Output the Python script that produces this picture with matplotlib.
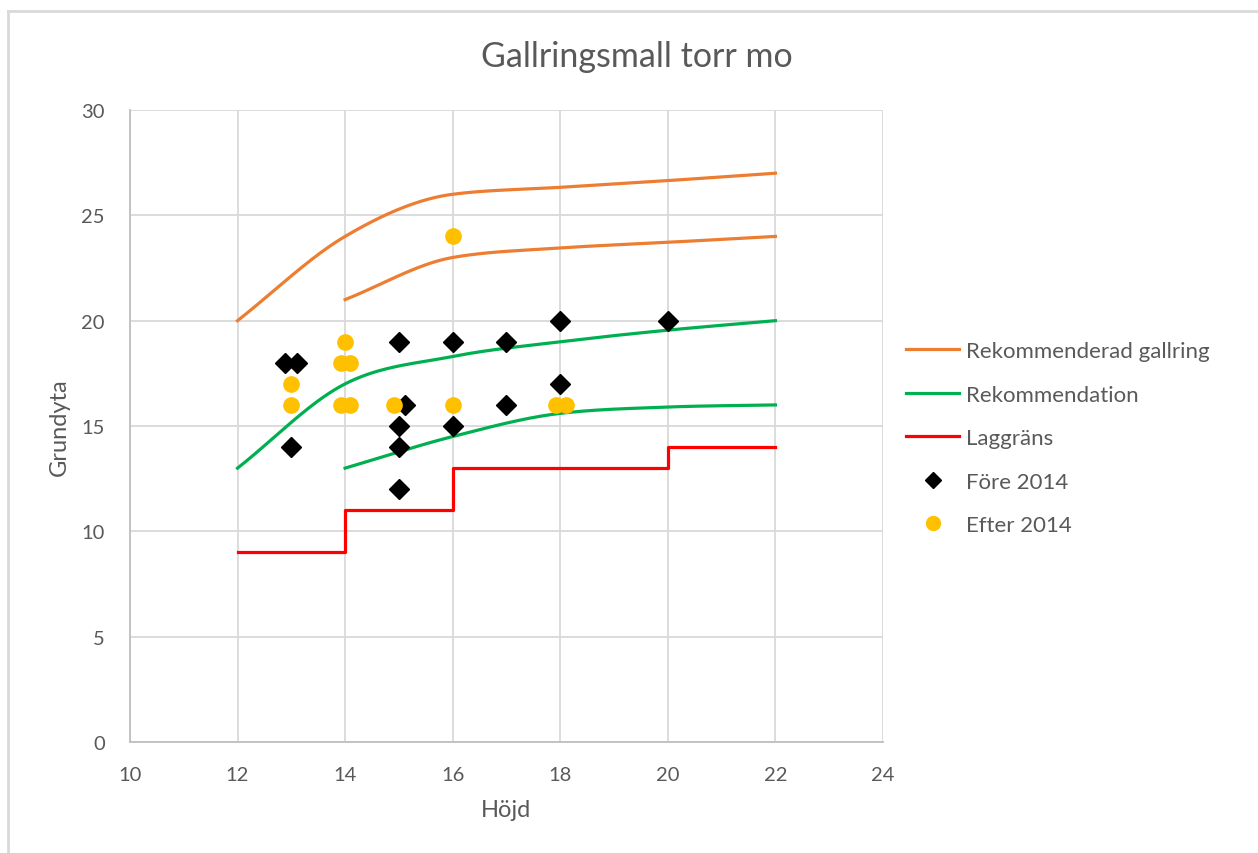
import numpy as np
import matplotlib
matplotlib.use("Agg")
import matplotlib.pyplot as plt
from matplotlib.lines import Line2D

plt.rcParams['font.family'] = ['Lato', 'DejaVu Sans']

# curves
rek_gall_hi_x = [12, 14, 16, 18, 20, 22]
rek_gall_hi_y = [20, 24, 26, 26.33, 26.65, 27]
rek_gall_lo_x = [14, 16, 18, 20, 22]
rek_gall_lo_y = [21, 23, 23.45, 23.72, 24]
rek_hi_x = [12, 14, 16, 18, 20, 22]
rek_hi_y = [13, 17, 18.3, 19, 19.55, 20]
rek_lo_x = [14, 16, 18, 20, 22]
rek_lo_y = [13, 14.5, 15.6, 15.9, 16]
lag_x = [12, 14, 16, 20, 22]
lag_y = [9, 11, 13, 14, 14]

fore_x = [12.88, 13.1, 13, 15, 15.12, 15, 15, 15, 16, 16, 17, 17, 18, 18, 20]
fore_y = [18, 18, 14, 19, 16, 15, 14, 12, 19, 15, 19, 16, 20, 17, 20]
efter_x = [13, 13, 14, 13.93, 14.1, 13.93, 14.1, 14.9, 16, 16, 17.92, 18.1]
efter_y = [17, 16, 19, 18, 18, 16, 16, 16, 24, 16, 16, 16]

ORANGE = '#ED7D31'
GREEN = '#00B050'
RED = '#FF0000'
GOLD = '#FFC000'
GRAY = '#595959'


def smooth(xs, ys, n=40):
    # cubic Hermite through the points, tangents limited so the bends stay smooth
    x = np.asarray(xs, float)
    y = np.asarray(ys, float)
    h = np.diff(x)
    d = np.diff(y) / h
    m = np.zeros_like(y)
    for k in range(1, len(x) - 1):
        a, b = d[k - 1], d[k]
        m[k] = min((a + b) / 2, 2 * min(a, b))
    m[0] = d[0]
    m[-1] = d[-1]
    px, py = [], []
    for i in range(len(x) - 1):
        s = np.linspace(0, 1, n)
        h00 = 2 * s**3 - 3 * s**2 + 1
        h10 = s**3 - 2 * s**2 + s
        h01 = -2 * s**3 + 3 * s**2
        h11 = s**3 - s**2
        px.append(x[i] + s * h[i])
        py.append(h00 * y[i] + h10 * h[i] * m[i] + h01 * y[i + 1] + h11 * h[i] * m[i + 1])
    return np.concatenate(px), np.concatenate(py)


fig = plt.figure(figsize=(12.58, 8.54), dpi=100)
ax = fig.add_axes([0.1033, 0.130, 0.5986, 0.740])

lw = 2.3
ax.plot(*smooth(rek_gall_hi_x, rek_gall_hi_y), color=ORANGE, lw=lw, zorder=3)
ax.plot(*smooth(rek_gall_lo_x, rek_gall_lo_y), color=ORANGE, lw=lw, zorder=3)
ax.plot(*smooth(rek_hi_x, rek_hi_y), color=GREEN, lw=lw, zorder=3)
ax.plot(*smooth(rek_lo_x, rek_lo_y), color=GREEN, lw=lw, zorder=3)
ax.plot(lag_x, lag_y, color=RED, lw=lw, drawstyle='steps-post', zorder=3)
ax.plot(fore_x, fore_y, ls='none', marker='D', ms=10, color='black', zorder=4)
ax.plot(efter_x, efter_y, ls='none', marker='o', ms=11, color=GOLD, zorder=4)

ax.set_xlim(10, 24)
ax.set_ylim(0, 30)
ax.set_xticks(range(10, 25, 2))
ax.set_yticks(range(0, 31, 5))
ax.grid(True, color='#D9D9D9', lw=1.3)
ax.set_axisbelow(True)
for s in ['top', 'right']:
    ax.spines[s].set_visible(False)
for s in ['left', 'bottom']:
    ax.spines[s].set_color('#BFBFBF')
    ax.spines[s].set_linewidth(1.3)
ax.tick_params(length=0, labelsize=14.5, labelcolor=GRAY)
ax.tick_params(axis='y', pad=18)
ax.tick_params(axis='x', pad=17)
ax.set_xlabel('Höjd', fontsize=17, color=GRAY, labelpad=12)
ax.set_ylabel('Grundyta', fontsize=17, color=GRAY, labelpad=8)
fig.text(0.506, 0.933, 'Gallringsmall torr mo', ha='center', va='center', fontsize=24.5, color=GRAY)

handles = [
    Line2D([], [], color=ORANGE, lw=lw),
    Line2D([], [], color=GREEN, lw=lw),
    Line2D([], [], color=RED, lw=lw),
    Line2D([], [], ls='none', marker='D', ms=8, color='black'),
    Line2D([], [], ls='none', marker='o', ms=10, color=GOLD),
]
labels = ['Rekommenderad gallring', 'Rekommendation', 'Laggräns', 'Före 2014', 'Efter 2014']
leg = fig.legend(handles, labels, loc='upper left', bbox_to_anchor=(0.713, 0.610),
                 frameon=False, fontsize=16, handlelength=2.4, handletextpad=0.3,
                 labelspacing=1.06, borderaxespad=0)
for t in leg.get_texts():
    t.set_color(GRAY)

# chart-area border
fig.add_artist(Line2D([8 / 1258, 1], [1 - 12 / 854, 1 - 12 / 854], color='#D9D9D9', lw=2, transform=fig.transFigure))
fig.add_artist(Line2D([8 / 1258, 8 / 1258], [0, 1 - 12 / 854], color='#D9D9D9', lw=2, transform=fig.transFigure))

fig.savefig('out.png', dpi=100)
